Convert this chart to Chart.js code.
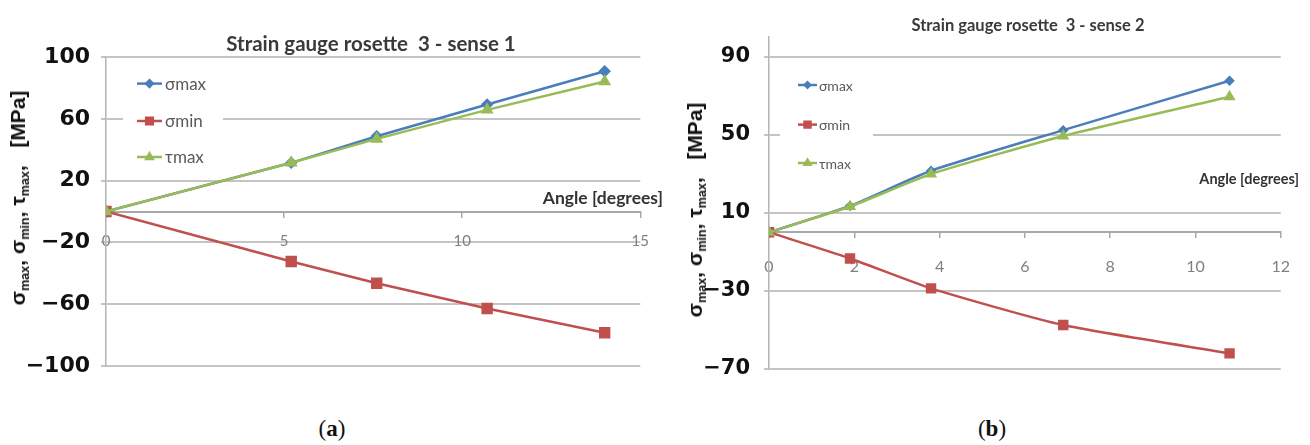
<!DOCTYPE html>
<html>
<head>
<meta charset="utf-8">
<script src="https://cdn.jsdelivr.net/npm/chart.js@4/dist/chart.umd.min.js"></script>
<style>
  html, body { margin: 0; padding: 0; background: #fff; }
  #page { position: relative; width: 1310px; height: 445px; overflow: hidden; background: #fff; }
  canvas { position: absolute; top: 0; }
  .lbl { position: absolute; white-space: nowrap; transform: translate(-50%, -50%); }
  .title { font-family: Lato, "Open Sans", sans-serif; font-weight: bold; color: #3a3a3a; }
  .axis-note { font-family: Lato, "Open Sans", sans-serif; font-weight: bold; color: #333; transform: translate(-100%, -50%); }
  .ytitle { font-family: "Liberation Sans", Arial, sans-serif; font-weight: bold; color: #111;
            transform: translate(-50%, -50%) rotate(-90deg); }
  .ytitle sub { font-size: 0.6em; vertical-align: -0.3em; line-height: 0; }
  .caption { font-family: "Liberation Serif", "DejaVu Serif", serif; font-size: 23px; color: #111; }
</style>
</head>
<body>
<div id="page">
  <canvas id="chartA" width="665" height="400" style="left:0px"></canvas>
  <canvas id="chartB" width="645" height="400" style="left:665px"></canvas>

  <div class="lbl title" style="left:371px; top:43px; font-size:20.5px;">Strain gauge rosette&nbsp; 3 - sense 1</div>
  <div class="lbl title" style="left:1028px; top:25px; font-size:16.5px;">Strain gauge rosette&nbsp; 3 - sense 2</div>

  <div class="lbl axis-note" style="left:663px; top:197px; font-size:17.5px;">Angle [degrees]</div>
  <div class="lbl axis-note" style="left:1299px; top:178px; font-size:14.5px;">Angle [degrees]</div>

  <div class="lbl ytitle" style="left:18px; top:198px; font-size:21px;">σ<sub>max</sub>, σ<sub>min</sub>, τ<sub>max</sub>, &nbsp;&nbsp;[MPa]</div>
  <div class="lbl ytitle" style="left:695px; top:210px; font-size:21px;">σ<sub>max</sub>, σ<sub>min</sub>, τ<sub>max</sub>, &nbsp;&nbsp;[MPa]</div>

  <div class="lbl caption" style="left:332px; top:429px;">(<b>a</b>)</div>
  <div class="lbl caption" style="left:992px; top:429px;">(<b>b</b>)</div>
</div>

<script>
// Rosette 3, sense 1: principal stresses vs. rotation angle
const anglesA   = [0, 5.2, 7.6, 10.7, 14.0];
const sigmaMaxA = [0, 31.5, 48.7, 69.3, 90.8];
const sigmaMinA = [0, -32.4, -46.4, -62.8, -78.5];
const tauMaxA   = [0, 31.5, 47.0, 65.8, 84.1];
const xTicksA   = [0, 5, 10, 15];
const yTicksA   = [100, 60, 20, -20, -60, -100];

// Rosette 3, sense 2
const anglesB   = [0, 1.9, 3.8, 6.9, 10.8];
const sigmaMaxB = [0, 13.5, 31.5, 52.3, 77.6];
const sigmaMinB = [0, -13.4, -28.7, -47.5, -62.0];
const tauMaxB   = [0, 13.2, 29.8, 49.3, 69.4];
const xTicksB   = [0, 2, 4, 6, 8, 10, 12];
const yTicksB   = [90, 50, 10, -30, -70];

const seriesNames = ['σmax', 'σmin', 'τmax'];
const BLUE = '#4a7ebb', RED = '#c0504d', GREEN = '#98bb55';

const pairs = (xs, ys) => xs.map((x, i) => ({ x: x, y: ys[i] }));
const minusFmt = v => (v < 0 ? '\u2212' + Math.abs(v) : String(v));

// Key drawn inside the plot area: line sample with marker, then the label
const insideKey = {
  id: 'insideKey',
  beforeDatasetsDraw(chart, args, o) {
    const { ctx, chartArea } = chart;
    const ox = chartArea.left, oy = chartArea.top;
    ctx.save();
    ctx.fillStyle = '#ffffff';
    ctx.fillRect(ox + o.box[0], oy + o.box[1], o.box[2], o.box[3]);
    chart.data.datasets.forEach((ds, i) => {
      const y = oy + o.rows[i];
      const x0 = ox + o.lineX, x1 = x0 + o.lineLen;
      ctx.strokeStyle = ds.borderColor;
      ctx.lineWidth = ds.borderWidth;
      ctx.beginPath(); ctx.moveTo(x0, y); ctx.lineTo(x1, y); ctx.stroke();
      ctx.fillStyle = ds.pointBackgroundColor;
      ctx.strokeStyle = ds.pointBorderColor;
      Chart.helpers.drawPoint(ctx, { pointStyle: ds.pointStyle, radius: ds.pointRadius * o.markScale, rotation: 0, borderWidth: 1 }, (x0 + x1) / 2, y);
      ctx.fillStyle = o.color;
      ctx.font = o.font;
      ctx.textAlign = 'left';
      ctx.textBaseline = 'middle';
      ctx.fillText(ds.label, x1 + o.gap, y + 1);
    });
    ctx.restore();
  }
};

function makeDatasets(xs, smax, smin, tmax, sz, tension) {
  return [
    { label: seriesNames[0], data: pairs(xs, smax), borderColor: BLUE, backgroundColor: BLUE,
      pointBackgroundColor: BLUE, pointBorderColor: BLUE, pointStyle: 'rectRot', pointRadius: sz.diamond,
      borderWidth: 2.5, tension: tension, order: 3 },
    { label: seriesNames[1], data: pairs(xs, smin), borderColor: RED, backgroundColor: RED,
      pointBackgroundColor: RED, pointBorderColor: RED, pointStyle: 'rect', pointRadius: sz.square,
      borderWidth: 2.5, tension: tension, order: 2 },
    { label: seriesNames[2], data: pairs(xs, tmax), borderColor: GREEN, backgroundColor: GREEN,
      pointBackgroundColor: GREEN, pointBorderColor: GREEN, pointStyle: 'triangle', pointRadius: sz.triangle,
      borderWidth: 2.5, tension: tension, order: 1 }
  ];
}

function makeChart(id, cfg) {
  return new Chart(document.getElementById(id), {
    type: 'line',
    data: { datasets: makeDatasets(cfg.xs, cfg.smax, cfg.smin, cfg.tmax, cfg.marks, cfg.tension) },
    plugins: [insideKey],
    options: {
      responsive: false,
      animation: false,
      devicePixelRatio: 1,
      layout: { padding: cfg.padding },
      plugins: { legend: { display: false }, tooltip: { enabled: false }, title: { display: false },
                 insideKey: cfg.key },
      scales: {
        x: {
          type: 'linear',
          position: { y: 0 },
          min: cfg.xMin, max: cfg.xMax,
          afterBuildTicks: s => { s.ticks = cfg.xTicks.map(v => ({ value: v })); },
          grid: { drawOnChartArea: false, drawTicks: true, tickLength: 5, color: '#a8a8a8', lineWidth: 1.5 },
          border: { display: true, color: '#a8a8a8', width: 2 },
          ticks: { color: '#808080', font: { family: 'Lato', size: cfg.xFont }, padding: cfg.xPad,
                   maxRotation: 0, autoSkip: false }
        },
        y: {
          type: 'linear',
          min: cfg.yMin, max: cfg.yMax,
          afterBuildTicks: s => { s.ticks = cfg.yTicks.map(v => ({ value: v })); },
          afterFit: s => { s.width = cfg.yWidth; },
          grid: { color: '#c4c4c4', lineWidth: 2, drawTicks: true, tickLength: 5 },
          border: { display: true, color: '#b4b4b4', width: 1.5 },
          ticks: { color: '#111', font: { family: 'DejaVu Sans', weight: 'bold', size: cfg.yFont },
                   padding: cfg.yPad, callback: v => minusFmt(v) }
        }
      }
    }
  });
}

makeChart('chartA', {
  xs: anglesA, smax: sigmaMaxA, smin: sigmaMinA, tmax: tauMaxA,
  xTicks: xTicksA, yTicks: yTicksA, xMin: 0, xMax: 15, yMin: -100, yMax: 100,
  tension: 0, marks: { diamond: 4.5, square: 6.3, triangle: 5 },
  padding: { left: 0, top: 57, right: 13, bottom: 34 },
  yWidth: 106, yFont: 22, yPad: 11, xFont: 15, xPad: 16,
  key: { box: [17, 11, 100, 105], rows: [26.6, 64, 100], lineX: 31, lineLen: 25, gap: 3,
         markScale: 0.75, font: '17px Lato', color: '#5a5a5a' }
});

makeChart('chartB', {
  xs: anglesB, smax: sigmaMaxB, smin: sigmaMinB, tmax: tauMaxB,
  xTicks: xTicksB, yTicks: yTicksB, xMin: 0, xMax: 12, yMin: -70, yMax: 100,
  tension: 0.2, marks: { diamond: 3.5, square: 5.6, triangle: 4.5 },
  padding: { left: 0, top: 37, right: 18, bottom: 31 },
  yWidth: 104, yFont: 21, yPad: 14, xFont: 16, xPad: 20,
  key: { box: [11, 28, 93, 113], rows: [48, 87.6, 126], lineX: 29, lineLen: 19, gap: 2,
         markScale: 0.75, font: '14px Lato', color: '#5a5a5a' }
});
</script>
</body>
</html>
